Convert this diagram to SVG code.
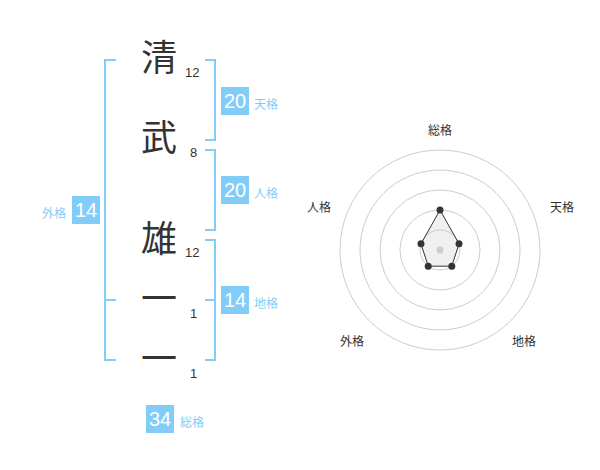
<svg xmlns="http://www.w3.org/2000/svg" width="600" height="470" viewBox="0 0 600 470">
<style>
.ch{font-family:"Noto Sans CJK JP","Noto Sans",sans-serif;font-size:36px;fill:#333;text-anchor:middle}
.num{font-family:"Liberation Sans",Arial,sans-serif;font-size:13px;fill:#333}
.br{fill:none;stroke:#82cdf8;stroke-width:2}
.box{fill:#82cdf8}
.bv{font-family:"Liberation Sans",Arial,sans-serif;font-size:20px;fill:#fff;text-anchor:middle}
.bl{font-family:"Noto Sans CJK JP",sans-serif;font-size:12px;fill:#82cdf8}
.ring{fill:none;stroke:#ccc;stroke-width:1}
.rl{font-family:"Noto Sans CJK JP",sans-serif;font-size:12px;fill:#333;text-anchor:middle}
</style>
<rect width="600" height="470" fill="#fff"/>
<g id="chars">
<g id="c1"><text class="ch" x="159" y="71">清</text><text class="num" x="185" y="77">12</text></g>
<g id="c2"><text class="ch" x="159" y="151">武</text><text class="num" x="190" y="157">8</text></g>
<g id="c3"><text class="ch" x="159" y="252">雄</text><text class="num" x="185" y="257">12</text></g>
<g id="c4"><text class="ch" x="159" y="312">一</text><text class="num" x="190" y="318">1</text></g>
<g id="c5"><text class="ch" x="159" y="372">一</text><text class="num" x="190" y="378">1</text></g>
</g>
<g id="connectors">
<path class="br" d="M116,60 H105 V360 H116 M105,300 H116"/>
<path class="br" d="M205,60 H215 V140 H205"/>
<path class="br" d="M205,150 H215 V230 H205"/>
<path class="br" d="M205,240 H215 V360 H205 M205,300 H215"/>
</g>
<g id="tenkaku"><rect class="box" x="221" y="87" width="28" height="28"/><text class="bv" x="235" y="108">20</text><text class="bl" x="254" y="109">天格</text></g>
<g id="jinkaku"><rect class="box" x="221" y="176" width="28" height="28"/><text class="bv" x="235" y="197">20</text><text class="bl" x="254" y="198">人格</text></g>
<g id="chikaku"><rect class="box" x="221" y="286" width="28" height="28"/><text class="bv" x="235" y="307">14</text><text class="bl" x="254" y="308">地格</text></g>
<g id="gaikaku"><rect class="box" x="72" y="196" width="28" height="28"/><text class="bv" x="86" y="217">14</text><text class="bl" x="66" y="218" text-anchor="end">外格</text></g>
<g id="soukaku"><rect class="box" x="146" y="405" width="28" height="28"/><text class="bv" x="160" y="426">34</text><text class="bl" x="180" y="427">総格</text></g>
<g id="radar">
<circle class="ring" cx="440" cy="250" r="100"/>
<circle class="ring" cx="440" cy="250" r="80"/>
<circle class="ring" cx="440" cy="250" r="60"/>
<circle class="ring" cx="440" cy="250" r="40"/>
<circle class="ring" cx="440" cy="250" r="20"/>
<polygon points="440,210 459.02,243.82 451.76,266.18 428.24,266.18 420.98,243.82" fill="#ccc" fill-opacity="0.3" stroke="#333" stroke-width="1"/>
<circle cx="440" cy="250" r="3.5" fill="#ccc"/>
<g fill="#333">
<circle cx="440" cy="210" r="3.5"/>
<circle cx="459.02" cy="243.82" r="3.5"/>
<circle cx="451.76" cy="266.18" r="3.5"/>
<circle cx="428.24" cy="266.18" r="3.5"/>
<circle cx="420.98" cy="243.82" r="3.5"/>
</g>
<text class="rl" x="440" y="135">総格</text>
<text class="rl" x="562" y="212">天格</text>
<text class="rl" x="524" y="346">地格</text>
<text class="rl" x="352" y="346">外格</text>
<text class="rl" x="319" y="212">人格</text>
</g>
</svg>
